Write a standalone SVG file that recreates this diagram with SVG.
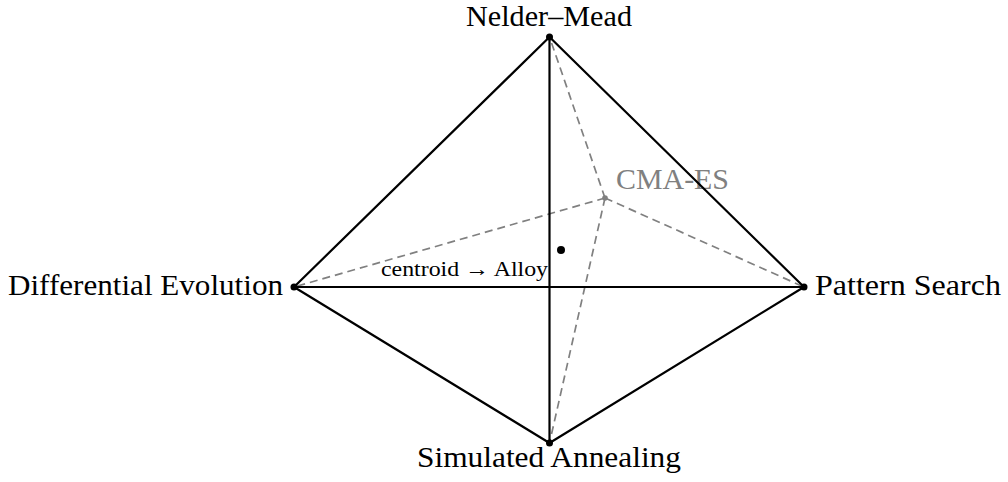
<svg xmlns="http://www.w3.org/2000/svg" width="1008" height="482" viewBox="0 0 1008 482">
  <style>
    .edge { stroke: #000; stroke-width: 2.2; fill: none; stroke-linecap: round; }
    .hidden { stroke: #808080; stroke-width: 1.7; fill: none; stroke-dasharray: 8 5; }
  </style>
  <rect width="1008" height="482" fill="#fff"/>
  <g font-family="'Liberation Serif', 'Times New Roman', serif" font-size="29">
    <g id="cma-es">
      <circle cx="605" cy="198" r="2.8" fill="#808080"/>
      <text x="616" y="189" fill="#808080" textLength="113" lengthAdjust="spacingAndGlyphs">CMA-ES</text>
    </g>
  </g>
  <g id="connectors">
    <!-- edges to the interior point (dashed, grey) -->
    <line class="hidden" x1="605" y1="198" x2="549.5" y2="37"/>
    <line class="hidden" x1="605" y1="198" x2="294" y2="287"/>
    <line class="hidden" x1="605" y1="198" x2="804" y2="287"/>
    <line class="hidden" x1="605" y1="198" x2="549.5" y2="443"/>
    <!-- outer edges -->
    <line class="edge" x1="549.5" y1="37" x2="294" y2="287"/>
    <line class="edge" x1="549.5" y1="37" x2="804" y2="287"/>
    <line class="edge" x1="549.5" y1="37" x2="549.5" y2="443"/>
    <line class="edge" x1="294" y1="287" x2="804" y2="287"/>
    <line class="edge" x1="294" y1="287" x2="549.5" y2="443"/>
    <line class="edge" x1="804" y1="287" x2="549.5" y2="443"/>
  </g>
  <g font-family="'Liberation Serif', 'Times New Roman', serif" font-size="29">
    <g id="nelder-mead">
      <circle cx="549.5" cy="37" r="3.5" fill="#000"/>
      <text x="549" y="26" text-anchor="middle" textLength="166" lengthAdjust="spacingAndGlyphs">Nelder–Mead</text>
    </g>
    <g id="differential-evolution">
      <circle cx="294" cy="287" r="3.5" fill="#000"/>
      <text x="283" y="295" text-anchor="end" textLength="275" lengthAdjust="spacingAndGlyphs">Differential Evolution</text>
    </g>
    <g id="pattern-search">
      <circle cx="804" cy="287" r="3.5" fill="#000"/>
      <text x="815" y="295" textLength="186" lengthAdjust="spacingAndGlyphs">Pattern Search</text>
    </g>
    <g id="simulated-annealing">
      <circle cx="549.5" cy="443" r="3.5" fill="#000"/>
      <text x="549" y="467" text-anchor="middle" textLength="264" lengthAdjust="spacingAndGlyphs">Simulated Annealing</text>
    </g>
    <g id="centroid">
      <circle cx="561" cy="250" r="4" fill="#000"/>
      <text x="548" y="276" font-size="21" text-anchor="end" textLength="167" lengthAdjust="spacingAndGlyphs">centroid → Alloy</text>
    </g>
  </g>
</svg>
